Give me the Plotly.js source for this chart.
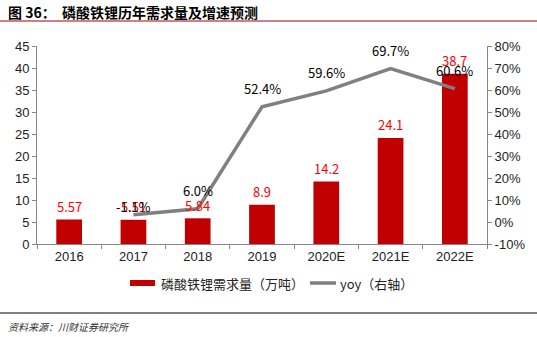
<!DOCTYPE html>
<html><head><meta charset="utf-8">
<script src="https://cdn.plot.ly/plotly-3.0.1.min.js"></script>
<style>html,body{margin:0;padding:0;background:#fff}#c{width:537px;height:337px}</style>
</head><body><div id="c"></div>
<script>
const years = ['2016','2017','2018','2019','2020E','2021E','2022E'];
const demand = [5.57, 5.51, 5.84, 8.9, 14.2, 24.1, 38.7];
const demandText = ['5.57','5.51','5.84','8.9','14.2','24.1','38.7'];
const yoyLine = [null, 3.3, 6.0, 52.4, 59.6, 69.7, 60.6];
const yoyLabel = [null, -1.1, 6.0, 52.4, 59.6, 69.7, 60.6];
const yoyText = ['', '-1.1%', '6.0%', '52.4%', '59.6%', '69.7%', '60.6%'];
const leftTicks = [0,5,10,15,20,25,30,35,40,45];
const rightTicks = [-10,0,10,20,30,40,50,60,70,80];

const cjk = '"Noto Sans CJK SC", "Noto Sans", sans-serif';
const lat = '"Liberation Sans", Arial, sans-serif';
const W = 450, H = 198, L = 37, T = 46;
const px = x => (x - L) / W;
const py = y => (T + H - y) / H;

const traces = [
  {type:'bar', x: years, y: demand, marker:{color:'#C00000'}, width:0.4,
   hoverinfo:'skip', showlegend:false},
  {type:'scatter', mode:'lines', x: years, y: yoyLine, yaxis:'y2',
   line:{color:'#808080', width:3.5}, showlegend:false, hoverinfo:'skip'}
];

const anns = [
  {xref:'paper', yref:'paper', x:px(6), y:py(12), xanchor:'left', yanchor:'middle', showarrow:false,
   text:'<b>图 36：  磷酸铁锂历年需求量及增速预测</b>', font:{family:cjk, size:14, color:'#000'}},
  {xref:'paper', yref:'paper', x:px(159), y:py(283), xanchor:'left', yanchor:'middle', showarrow:false,
   text:'磷酸铁锂需求量（万吨）', font:{family:cjk, size:13, color:'#222'}},
  {xref:'paper', yref:'paper', x:px(338), y:py(283), xanchor:'left', yanchor:'middle', showarrow:false,
   text:'yoy（右轴）', font:{family:cjk, size:13, color:'#222'}},
  {xref:'paper', yref:'paper', x:px(6), y:py(326), xanchor:'left', yanchor:'middle', showarrow:false,
   text:'<i>资料来源：川财证券研究所</i>', font:{family:cjk, size:10, color:'#333'}}
];
years.forEach((yr, i) => {
  anns.push({x: i, y: demand[i], xref:'x', yref:'y', yanchor:'middle', yshift:13, showarrow:false,
    text: demandText[i], font:{family:cjk, size:13, color:'#FF0000'}});
  if (yoyLabel[i] !== null) {
    anns.push({x: i, y: yoyLabel[i], xref:'x', yref:'y2', yanchor:'middle', yshift:18, showarrow:false,
      text: yoyText[i], font:{family:cjk, size:13, color:'#000'}});
  }
});

const layout = {
  width:537, height:337,
  margin:{l:L, r:537-L-W, t:T, b:337-T-H, pad:0},
  paper_bgcolor:'#fff', plot_bgcolor:'#fff',
  xaxis:{type:'category', range:[-0.5, years.length-0.5], showline:true, linecolor:'#888', linewidth:1,
    ticks:'outside', tickson:'boundaries', ticklen:4, tickcolor:'#888',
    tickfont:{family:lat, size:13, color:'#222'}, showgrid:false, zeroline:false},
  yaxis:{range:[0,45], tickvals:leftTicks, showline:true, linecolor:'#888',
    ticks:'outside', ticklen:4, tickcolor:'#888', showgrid:false, zeroline:false,
    tickfont:{family:lat, size:13, color:'#222'}},
  yaxis2:{range:[-10,80], tickvals:rightTicks, ticktext: rightTicks.map(v=>v+'%'),
    overlaying:'y', side:'right', showline:true, linecolor:'#888',
    ticks:'outside', ticklen:4, tickcolor:'#888', showgrid:false, zeroline:false,
    tickfont:{family:lat, size:13, color:'#222'}},
  shapes:[
    {type:'line', xref:'paper', yref:'paper', x0:px(0), x1:px(537), y0:py(21), y1:py(21), line:{color:'#A00000', width:1}},
    {type:'line', xref:'paper', yref:'paper', x0:px(0), x1:px(537), y0:py(313), y1:py(313), line:{color:'#000', width:1}},
    {type:'rect', xref:'paper', yref:'paper', x0:px(130), x1:px(155), y0:py(286), y1:py(280), fillcolor:'#C00000', line:{width:0}},
    {type:'line', xref:'paper', yref:'paper', x0:px(310), x1:px(336), y0:py(283), y1:py(283), line:{color:'#808080', width:3.5}}
  ],
  annotations: anns
};
Plotly.newPlot('c', traces, layout, {staticPlot:true, displayModeBar:false});
</script></body></html>
